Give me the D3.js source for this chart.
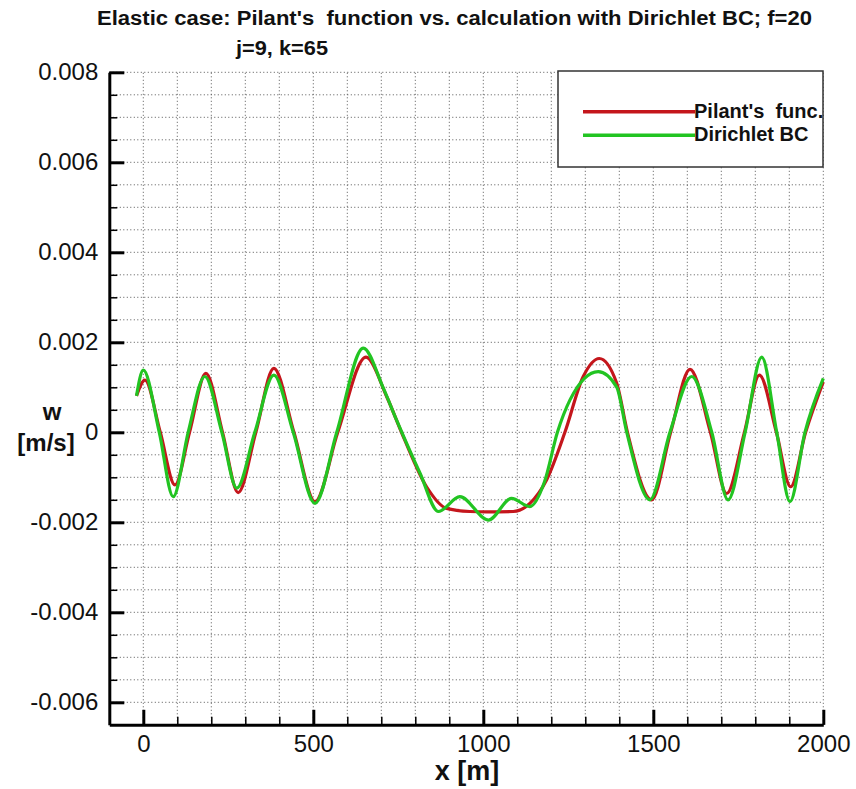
<!DOCTYPE html>
<html>
<head>
<meta charset="utf-8">
<script src="https://cdn.jsdelivr.net/npm/d3@7"></script>
<style>
	body { margin: 0; background: #fff; }
	text { font-family: "Liberation Sans", Arial, sans-serif; fill: #111; white-space: pre; }
</style>
</head>
<body>
<div id="chart"></div>
<script>

// data (x in m, w in m/s)
var pilantX = [-20, 5, 50, 93, 136, 184, 233, 279, 331, 384, 443, 505, 572, 655, 716, 765, 833, 892, 960, 1010, 1088, 1137, 1186, 1240, 1294, 1341, 1392, 1424, 1495, 1551, 1608, 1668, 1716, 1768, 1812, 1862, 1904, 1948, 2000];
var pilantW = [0.00081, 0.00116, 0, -0.00117, 0, 0.00131, 0, -0.00134, 0, 0.00142, 0, -0.00154, 0, 0.00167, 0.00079, -0.0001, -0.00121, -0.00169, -0.00176, -0.00177, -0.00176, -0.00158, -0.00106, 0, 0.00124, 0.00164, 0.0011, 0, -0.0015, 0, 0.0014, 0, -0.00136, 0, 0.00127, 0, -0.00121, 0, 0.00112];

var dirichletX = [-20, 0, 47, 88, 132, 181, 231, 275, 328, 384, 441, 505, 569, 647, 706, 745, 814, 868, 931, 1015, 1083, 1137, 1180, 1218, 1255, 1338, 1392, 1422, 1490, 1549, 1613, 1672, 1720, 1770, 1819, 1863, 1902, 1946, 2000];
var dirichletW = [0.00081, 0.00138, 0, -0.00143, 0, 0.00124, 0, -0.00124, 0, 0.00127, 0, -0.00158, 0, 0.00187, 0.00098, 0.00027, -0.00091, -0.00176, -0.00143, -0.00195, -0.00147, -0.00165, -0.0011, 0, 0.00072, 0.00135, 0.00101, 0, -0.0015, 0, 0.00124, 0, -0.0015, 0, 0.00167, 0, -0.00154, 0, 0.0012];

var xTicks = [0, 500, 1000, 1500, 2000];
var yTicks = [-0.006, -0.004, -0.002, 0, 0.002, 0.004, 0.006, 0.008];
var legendNames = ["Pilant's  func.", "Dirichlet BC"];
var colors = ["#c4161c", "#22c422"];

var width = 856;
var height = 789;

var svg = d3.select("#chart")
	.append("svg")
	.attr("width", width)
	.attr("height", height);

// scales
var xScale = d3.scaleLinear()
	.domain([-100, 2000])
	.range([109.3, 823.3]);

var yScale = d3.scaleLinear()
	.domain([-0.0065, 0.008])
	.range([724.8, 72.3]);

// dotted grid
var xGrid = d3.range(0, 2001, 100);
var yGrid = d3.range(-12, 17).map(function(d){ return d * 0.0005; });

svg.append("g")
	.selectAll("line")
	.data(xGrid)
	.enter()
	.append("line")
	.attr("x1", function(d){ return xScale(d); })
	.attr("x2", function(d){ return xScale(d); })
	.attr("y1", yScale(-0.0065))
	.attr("y2", yScale(0.008))
	.attr("stroke", "#555")
	.attr("stroke-width", 1)
	.attr("stroke-dasharray", "1,2.5");

svg.append("g")
	.selectAll("line")
	.data(yGrid)
	.enter()
	.append("line")
	.attr("x1", xScale(-100))
	.attr("x2", xScale(2000))
	.attr("y1", function(d){ return yScale(d); })
	.attr("y2", function(d){ return yScale(d); })
	.attr("stroke", "#555")
	.attr("stroke-width", 1)
	.attr("stroke-dasharray", "1,2.5");

// minor ticks (inside)
svg.append("g")
	.attr("transform", "translate(0," + yScale(-0.0065) + ")")
	.call(d3.axisBottom(xScale).tickValues(xGrid).tickSize(-8).tickSizeOuter(0).tickFormat(""))
	.call(function(g){
		g.select(".domain").remove();
		g.selectAll("line").attr("stroke", "#000").attr("stroke-width", 1.5);
	});

svg.append("g")
	.attr("transform", "translate(" + xScale(-100) + ",0)")
	.call(d3.axisLeft(yScale).tickValues(yGrid).tickSize(-8).tickSizeOuter(0).tickFormat(""))
	.call(function(g){
		g.select(".domain").remove();
		g.selectAll("line").attr("stroke", "#000").attr("stroke-width", 1.5);
	});

// major axes
var xAxis = d3.axisBottom(xScale)
	.tickValues(xTicks)
	.tickSize(-15)
	.tickSizeOuter(0)
	.tickPadding(10)
	.tickFormat(d3.format("d"));

var yAxis = d3.axisLeft(yScale)
	.tickValues(yTicks)
	.tickSize(-15)
	.tickSizeOuter(0)
	.tickPadding(11)
	.tickFormat(function(d){
		return d === 0 ? "0" : d3.format(".3f")(d).replace("−", "-");
	});

svg.append("g")
	.attr("transform", "translate(0," + yScale(-0.0065) + ")")
	.call(xAxis)
	.call(function(g){
		g.select(".domain").attr("stroke-width", 3);
		g.selectAll("line").attr("stroke-width", 3);
		g.selectAll("text").attr("font-size", 24).attr("font-family", "Liberation Sans").attr("dy", "0.71em");
	});

svg.append("g")
	.attr("transform", "translate(" + xScale(-100) + ",0)")
	.call(yAxis)
	.call(function(g){
		g.select(".domain").attr("stroke-width", 3);
		g.selectAll("line").attr("stroke-width", 3);
		g.selectAll("text").attr("font-size", 24).attr("font-family", "Liberation Sans");
	});

// curves
var line = d3.line()
	.x(function(d){ return xScale(d[0]); })
	.y(function(d){ return yScale(d[1]); })
	.curve(d3.curveMonotoneX);

var series = [
	d3.zip(pilantX, pilantW),
	d3.zip(dirichletX, dirichletW)
];

svg.append("g")
	.selectAll("path")
	.data(series)
	.enter()
	.append("path")
	.attr("d", line)
	.attr("fill", "none")
	.attr("stroke", function(d, i){ return colors[i]; })
	.attr("stroke-width", 3.2)
	.attr("stroke-linejoin", "round");

// legend
svg.append("rect")
	.attr("x", 558)
	.attr("y", 71)
	.attr("width", 265)
	.attr("height", 96)
	.attr("fill", "#fff")
	.attr("stroke", "#333")
	.attr("stroke-width", 1.5);

var legend = svg.append("g")
	.selectAll("g")
	.data(legendNames)
	.enter()
	.append("g")
	.attr("transform", function(d, i){ return "translate(0," + (111.7 + i * 23.5) + ")"; });

legend.append("line")
	.attr("x1", 583)
	.attr("x2", 695)
	.attr("stroke", function(d, i){ return colors[i]; })
	.attr("stroke-width", 3.5);

legend.append("text")
	.attr("x", 694)
	.attr("y", 6)
	.attr("font-size", 20)
	.attr("font-weight", "bold")
	.text(function(d){ return d; });

// titles
svg.append("text")
	.attr("x", 97)
	.attr("y", 25)
	.attr("font-size", 20)
	.attr("font-weight", "bold")
	.attr("textLength", 715)
	.attr("lengthAdjust", "spacingAndGlyphs")
	.text("Elastic case: Pilant's  function vs. calculation with Dirichlet BC; f=20");

svg.append("text")
	.attr("x", 236)
	.attr("y", 55)
	.attr("font-size", 20)
	.attr("font-weight", "bold")
	.attr("textLength", 92)
	.attr("lengthAdjust", "spacingAndGlyphs")
	.text("j=9, k=65");

svg.append("text")
	.attr("x", 52)
	.attr("y", 420)
	.attr("text-anchor", "middle")
	.attr("font-size", 24)
	.attr("font-weight", "bold")
	.text("w");

svg.append("text")
	.attr("x", 46)
	.attr("y", 451)
	.attr("text-anchor", "middle")
	.attr("font-size", 24)
	.attr("font-weight", "bold")
	.text("[m/s]");

svg.append("text")
	.attr("x", 467)
	.attr("y", 780)
	.attr("text-anchor", "middle")
	.attr("font-size", 27)
	.attr("font-weight", "bold")
	.text("x [m]");

</script>
</body>
</html>
